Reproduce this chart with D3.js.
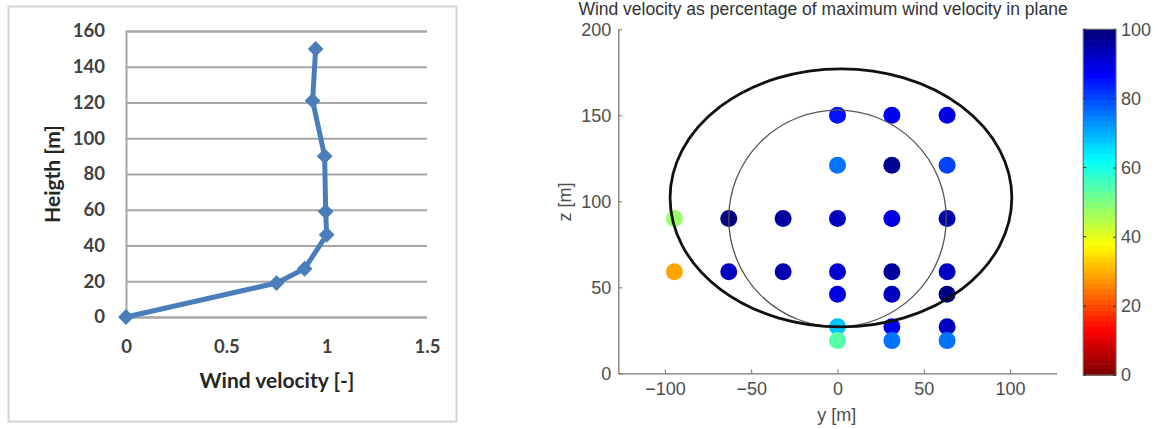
<!DOCTYPE html>
<html>
<head>
<meta charset="utf-8">
<script src="https://cdn.jsdelivr.net/npm/d3@7"></script>
<style>
body { margin: 0; background: white; }
.left text { font-family: Lato, "Open Sans", sans-serif; font-weight: bold; fill: #404040; }
.right text { font-family: "Liberation Sans", Arial, sans-serif; fill: #4d4d4d; }
</style>
</head>
<body>
<script>

// left chart: wind profile
const heights = [0, 19, 27, 46, 59, 90, 121, 150];
const velocity = [0, 0.75, 0.89, 1.0, 0.995, 0.99, 0.93, 0.945];
const leftYTicks = [0, 20, 40, 60, 80, 100, 120, 140, 160];
const leftXTicks = [0, 0.5, 1, 1.5];

// right chart: measurement points in rotor plane (y, z, % of max)
const pointY = [0, 31.5, 63.5,
                0, 31.5, 63.5,
                -94.5, -63, -31.5, 0, 31.5, 63.5,
                -94.5, -63, -31.5, 0, 31.5, 63.5,
                0, 31.5, 63.5,
                0, 31.5, 63.5,
                0, 31.5, 63.5];
const pointZ = [150, 150, 150,
                121, 121, 121,
                90, 90, 90, 90, 90, 90,
                59, 59, 59, 59, 59, 59,
                46, 46, 46,
                27, 27, 27,
                19, 19, 19];
const pointPct = [85, 88, 89.5,
                  76.5, 97.5, 81,
                  47, 99, 96, 92.5, 90.5, 94.5,
                  29, 92.5, 95, 91, 96.5, 93,
                  89.5, 93.5, 99.5,
                  68.5, 88, 93,
                  54, 75, 75];
const rightXTicks = [-100, -50, 0, 50, 100];
const rightYTicks = [0, 50, 100, 150, 200];
const colorTicks = [0, 20, 40, 60, 80, 100];
// rotor disc and outer ellipse (centre y, centre z, radius y, radius z)
const rotor = [0, 90, 63, 63];
const ellipse = [2, 102, 99, 75];

const svg = d3.select("body").append("svg")
  .attr("width", 1158).attr("height", 429);

// ---------- left ----------
const L = svg.append("g").attr("class", "left");
L.append("rect").attr("x", 8.5).attr("y", 6.5).attr("width", 448).attr("height", 415)
  .attr("fill", "white").attr("stroke", "#d4d4d4").attr("stroke-width", 2);

const xL = d3.scaleLinear().domain([0, 1.5]).range([126, 427]);
const yL = d3.scaleLinear().domain([0, 160]).range([317, 31]);

const gridL = L.append("g").attr("transform", "translate(126,0)")
  .call(d3.axisLeft(yL).tickValues(leftYTicks).tickSize(-(427 - 126)).tickFormat(d3.format("d")).tickPadding(21));
gridL.select(".domain").attr("stroke", "#a6a6a6").attr("stroke-width", 2);
gridL.selectAll(".tick line").attr("stroke", "#a6a6a6").attr("stroke-width", 2);
gridL.selectAll(".tick text").attr("font-size", 18.5).attr("fill", "#404040")
  .attr("font-family", "Lato").attr("font-weight", "bold");

const axXL = L.append("g").attr("transform", "translate(0,317)")
  .call(d3.axisBottom(xL).tickValues(leftXTicks).tickSize(0).tickPadding(23).tickFormat(d => d));
axXL.select(".domain").remove();
axXL.selectAll(".tick text").attr("font-size", 18.5).attr("fill", "#404040")
  .attr("font-family", "Lato").attr("font-weight", "bold");

L.append("text").attr("x", 277).attr("y", 388).attr("text-anchor", "middle")
  .attr("font-size", 21).style("fill", "#262626").text("Wind velocity [-]");
L.append("text").attr("transform", "translate(60,174) rotate(-90)").attr("text-anchor", "middle")
  .attr("font-size", 21).style("fill", "#262626").text("Heigth [m]");

const profile = heights.map((h, i) => [velocity[i], h]);
L.append("path").datum(profile)
  .attr("fill", "none").attr("stroke", "#4a7ebb").attr("stroke-width", 5).attr("stroke-linejoin", "round")
  .attr("d", d3.line().x(d => xL(d[0])).y(d => yL(d[1])));
L.selectAll(".mk").data(profile).enter().append("path")
  .attr("d", d3.symbol(d3.symbolSquare, 125)())
  .attr("transform", d => `translate(${xL(d[0])},${yL(d[1])}) rotate(45)`)
  .attr("fill", "#4a7ebb");

// ---------- right ----------
const R = svg.append("g").attr("class", "right");
const xR = d3.scaleLinear().domain([-127, 127]).range([618.3, 1056.7]);
const yR = d3.scaleLinear().domain([0, 200]).range([373.3, 29.3]);

// flipped jet colormap, 64 levels like matlab
function jet(t) {
  const c = v => Math.max(0, Math.min(1, v));
  return d3.rgb(255 * c(1.5 - Math.abs(4 * t - 3)), 255 * c(1.5 - Math.abs(4 * t - 2)), 255 * c(1.5 - Math.abs(4 * t - 1)));
}
const color = v => jet(1 - Math.min(63, Math.floor(v / 100 * 64)) / 63);

R.selectAll(".pt").data(pointPct).enter().append("circle")
  .attr("cx", (d, i) => xR(pointY[i]))
  .attr("cy", (d, i) => yR(pointZ[i]))
  .attr("r", 8.5)
  .attr("fill", d => color(d));

R.append("ellipse")
  .attr("cx", xR(rotor[0])).attr("cy", yR(rotor[1]))
  .attr("rx", xR(rotor[2]) - xR(0)).attr("ry", yR(0) - yR(rotor[3]))
  .attr("fill", "none").attr("stroke", "#555").attr("stroke-width", 1.3);
R.append("ellipse")
  .attr("cx", xR(ellipse[0])).attr("cy", yR(ellipse[1]))
  .attr("rx", xR(ellipse[2]) - xR(0)).attr("ry", yR(0) - yR(ellipse[3]))
  .attr("fill", "none").attr("stroke", "#111").attr("stroke-width", 2.8);

const axXR = R.append("g").attr("transform", "translate(0,373.3)")
  .call(d3.axisBottom(xR).tickValues(rightXTicks).tickSizeInner(-4).tickSizeOuter(0).tickPadding(9));
const axYR = R.append("g").attr("transform", "translate(618.3,0)")
  .call(d3.axisLeft(yR).tickValues(rightYTicks).tickSizeInner(-4).tickSizeOuter(0).tickPadding(7));
[axXR, axYR].forEach(a => {
  a.select(".domain").attr("stroke", "#777").attr("stroke-width", 1.3);
  a.selectAll(".tick line").attr("stroke", "#777");
  a.selectAll(".tick text").attr("font-size", 18).attr("fill", "#4d4d4d").attr("font-family", "Liberation Sans");
});

R.append("text").attr("x", 836.7).attr("y", 421).attr("text-anchor", "middle")
  .attr("font-size", 18).text("y [m]");
R.append("text").attr("transform", "translate(571,202) rotate(-90)").attr("text-anchor", "middle")
  .attr("font-size", 18).text("z [m]");
R.append("text").attr("x", 823).attr("y", 15).attr("text-anchor", "middle")
  .attr("font-size", 17.5).style("fill", "#333").text("Wind velocity as percentage of maximum wind velocity in plane");

// colorbar
const cY = d3.scaleLinear().domain([0, 100]).range([375, 29.3]);
const levels = d3.range(64);
R.selectAll(".cb").data(levels).enter().append("rect")
  .attr("x", 1083.3).attr("width", 32.7)
  .attr("y", d => cY((d + 1) / 64 * 100))
  .attr("height", d => cY(d / 64 * 100) - cY((d + 1) / 64 * 100) + 0.6)
  .attr("fill", d => jet(1 - d / 63));
R.append("rect").attr("x", 1083.3).attr("y", 29.3).attr("width", 32.7).attr("height", 375 - 29.3)
  .attr("fill", "none").attr("stroke", "#666").attr("stroke-width", 1.2);
const axC = R.append("g").attr("transform", "translate(1116,0)")
  .call(d3.axisRight(cY).tickValues(colorTicks).tickSizeInner(-3).tickSizeOuter(0).tickPadding(5));
axC.select(".domain").remove();
axC.selectAll(".tick line").attr("stroke", "#333");
axC.selectAll(".tick text").attr("font-size", 18).attr("fill", "#4d4d4d").attr("font-family", "Liberation Sans");
R.selectAll(".cbl").data(colorTicks).enter().append("line")
  .attr("x1", 1083.3).attr("x2", 1086.3)
  .attr("y1", d => cY(d)).attr("y2", d => cY(d))
  .attr("stroke", "#333");

</script>
</body>
</html>
